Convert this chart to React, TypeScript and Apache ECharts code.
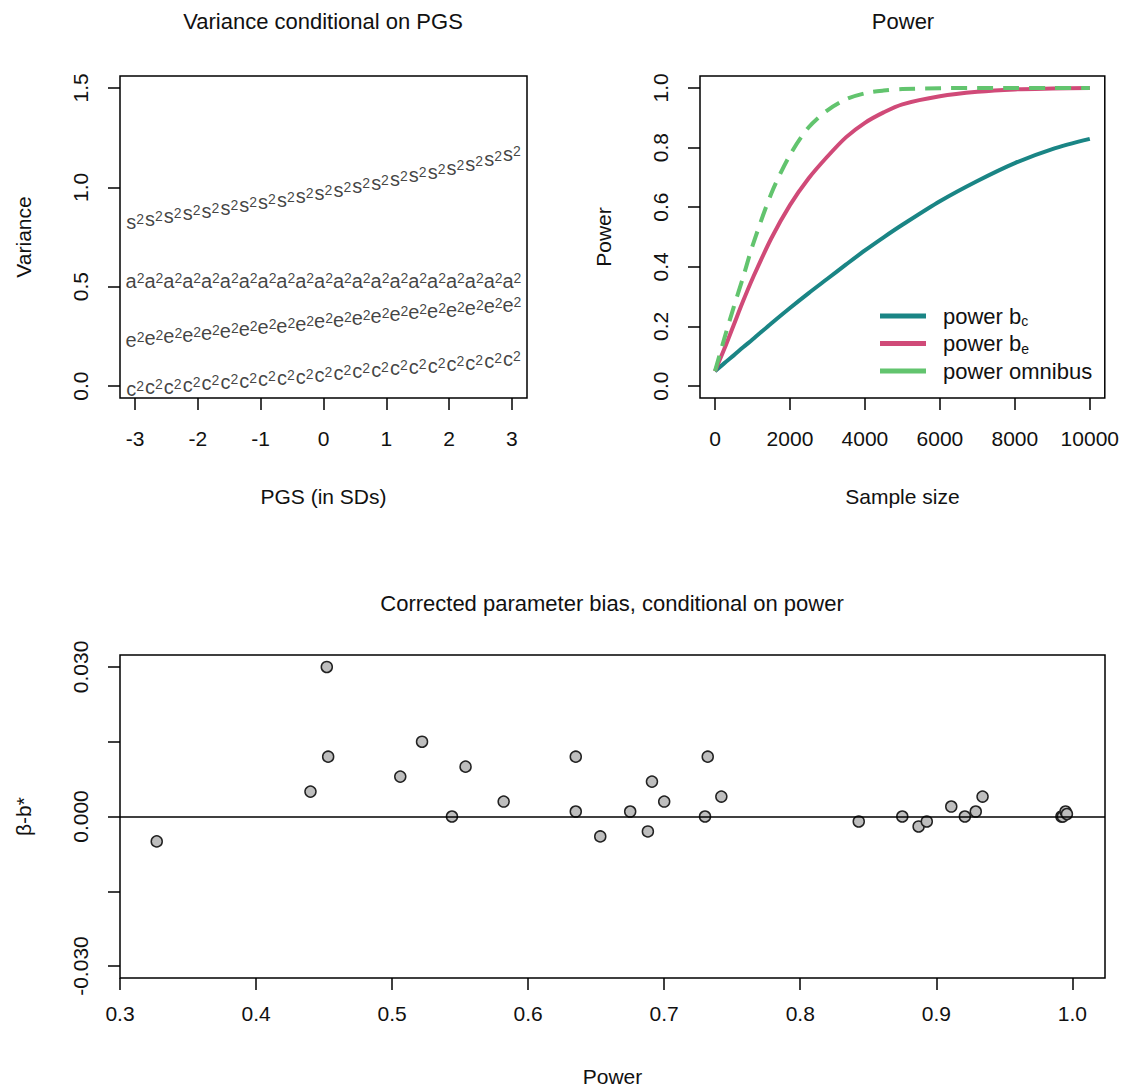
import React, { useEffect, useRef } from "react";
import * as echarts from "echarts";

// ---------- Data ----------
// Panel 1: variance components conditional on PGS
const pgs = [-3, -2.7, -2.4, -2.1, -1.8, -1.5, -1.2, -0.9, -0.6, -0.3, 0, 0.3, 0.6, 0.9, 1.2, 1.5, 1.8, 2.1, 2.4, 2.7, 3];
const s2 = [0.837, 0.855, 0.867, 0.881, 0.894, 0.909, 0.923, 0.938, 0.951, 0.968, 0.985, 1.001, 1.018, 1.035, 1.052, 1.072, 1.09, 1.111, 1.131, 1.156, 1.181];
const a2 = [0.539, 0.539, 0.539, 0.539, 0.539, 0.539, 0.539, 0.539, 0.539, 0.539, 0.539, 0.539, 0.539, 0.539, 0.539, 0.539, 0.539, 0.539, 0.539, 0.539, 0.539];
const e2 = [0.242, 0.253, 0.262, 0.27, 0.282, 0.292, 0.299, 0.309, 0.316, 0.326, 0.338, 0.346, 0.355, 0.363, 0.375, 0.383, 0.388, 0.397, 0.405, 0.414, 0.422];
const c2 = [-0.003, 0.006, 0.01, 0.018, 0.027, 0.035, 0.04, 0.047, 0.052, 0.06, 0.069, 0.077, 0.086, 0.094, 0.102, 0.111, 0.116, 0.122, 0.131, 0.141, 0.148];
const pgsTicks = [-3, -2, -1, 0, 1, 2, 3];
const varTicks = [0, 0.5, 1, 1.5];

// Panel 2: power by sample size
const sampleSize = [0, 250, 500, 750, 1000, 1500, 2000, 2500, 3000, 3500, 4000, 4500, 5000, 6000, 7000, 8000, 9000, 10000];
const powerBc = [0.05, 0.077, 0.103, 0.13, 0.156, 0.21, 0.262, 0.312, 0.36, 0.408, 0.455, 0.499, 0.541, 0.62, 0.688, 0.748, 0.795, 0.829];
const powerBe = [0.05, 0.125, 0.205, 0.285, 0.36, 0.495, 0.607, 0.697, 0.77, 0.835, 0.883, 0.918, 0.945, 0.972, 0.987, 0.995, 0.998, 1.0];
const powerOmni = [0.05, 0.16, 0.265, 0.365, 0.47, 0.645, 0.775, 0.868, 0.925, 0.962, 0.982, 0.991, 0.996, 0.999, 1.0, 1.0, 1.0, 1.0];
const nTicks = [0, 2000, 4000, 6000, 8000, 10000];
const powTicks = [0, 0.2, 0.4, 0.6, 0.8, 1.0];

// Panel 3: corrected parameter bias conditional on power
const powerVals = [0.327, 0.44, 0.452, 0.453, 0.506, 0.522, 0.544, 0.554, 0.582, 0.635, 0.635, 0.653, 0.675, 0.688, 0.691, 0.7, 0.73, 0.732, 0.742, 0.843, 0.875, 0.887, 0.893, 0.911, 0.921, 0.929, 0.934, 0.992, 0.993, 0.995, 0.996];
const biasVals = [-0.005, 0.005, 0.03, 0.012, 0.008, 0.015, 0.0, 0.01, 0.003, 0.012, 0.001, -0.004, 0.001, -0.003, 0.007, 0.003, 0.0, 0.012, 0.004, -0.001, 0.0, -0.002, -0.001, 0.002, 0.0, 0.001, 0.004, 0.0, 0.0, 0.001, 0.0005];
const powerXTicks = [0.3, 0.4, 0.5, 0.6, 0.7, 0.8, 0.9, 1.0];
const biasTicks = [-0.03, -0.015, 0, 0.015, 0.03];
const biasLabels = [-0.03, 0, 0.03];

// ---------- Styling ----------
const FONT = '"Liberation Sans", Arial, Helvetica, sans-serif';
const TXT = "#111111";
const TEAL = "#1a8585";
const PINK = "#d04a78";
const GREEN = "#62c46e";

const tickStyle = (values: number[]) => ({
  show: true,
  length: 12,
  inside: false,
  customValues: values,
  lineStyle: { color: "#000", width: 1.5 },
});

const labelStyle = (values: number[], margin: number, fmt: (v: number) => string, rotate = 0) => ({
  show: true,
  customValues: values,
  margin,
  rotate,
  fontSize: 21,
  fontFamily: FONT,
  color: TXT,
  formatter: fmt,
});

const hiddenLine = { show: false, onZero: false };
const nameStyle = { fontSize: 21, fontFamily: FONT, color: TXT };

const zip = (xs: number[], ys: number[]) => xs.map((x, i) => [x, ys[i]]);

const textSeries = (ys: number[], letter: string) => ({
  type: "scatter",
  xAxisIndex: 0,
  yAxisIndex: 0,
  data: zip(pgs, ys),
  symbol: "circle",
  symbolSize: 1,
  itemStyle: { color: "rgba(0,0,0,0)" },
  label: {
    show: true,
    position: "inside",
    offset: [0, 2.5],
    formatter: `{b|${letter}}{p|2}`,
    rich: {
      b: { fontSize: 20, lineHeight: 20, fontFamily: FONT, color: TXT, verticalAlign: "bottom" },
      p: { fontSize: 14, lineHeight: 14, fontFamily: FONT, color: TXT, padding: [0, 0, 13, 0], verticalAlign: "top" },
    },
  },
  silent: true,
});

const legendNames: Record<string, string> = {
  "power b_c": "power b{sub|c}",
  "power b_e": "power b{sub|e}",
  "power omnibus": "power omnibus",
};

export default function App() {
  const ref = useRef<HTMLDivElement>(null);

  useEffect(() => {
    if (!ref.current) return;
    const chart = echarts.init(ref.current, undefined, { renderer: "svg" });
    const option: any = {
      animation: false,
      backgroundColor: "#ffffff",
      grid: [
        { left: 120, top: 76, width: 407, height: 322, show: true, borderColor: "#000", borderWidth: 1.5, backgroundColor: "transparent" },
        { left: 700, top: 76, width: 406, height: 322, show: true, borderColor: "#000", borderWidth: 1.5, backgroundColor: "transparent" },
        { left: 120, top: 655, width: 985, height: 323, show: true, borderColor: "#000", borderWidth: 1.5, backgroundColor: "transparent" },
      ],
      xAxis: [
        {
          gridIndex: 0, type: "value", min: -3.24, max: 3.24,
          axisLine: hiddenLine, splitLine: { show: false },
          axisTick: tickStyle(pgsTicks),
          axisLabel: labelStyle(pgsTicks, 30, (v: number) => String(v)),
          name: "PGS (in SDs)", nameLocation: "middle", nameGap: 88, nameTextStyle: nameStyle,
        },
        {
          gridIndex: 1, type: "value", min: -400, max: 10400,
          axisLine: hiddenLine, splitLine: { show: false },
          axisTick: tickStyle(nTicks),
          axisLabel: labelStyle(nTicks, 30, (v: number) => String(v)),
          name: "Sample size", nameLocation: "middle", nameGap: 88, nameTextStyle: nameStyle,
        },
        {
          gridIndex: 2, type: "value", min: 0.3, max: 1.024,
          axisLine: hiddenLine, splitLine: { show: false },
          axisTick: tickStyle(powerXTicks),
          axisLabel: labelStyle(powerXTicks, 25, (v: number) => v.toFixed(1)),
          name: "Power", nameLocation: "middle", nameGap: 88, nameTextStyle: nameStyle,
        },
      ],
      yAxis: [
        {
          gridIndex: 0, type: "value", min: -0.06, max: 1.56,
          axisLine: hiddenLine, splitLine: { show: false },
          axisTick: tickStyle(varTicks),
          axisLabel: labelStyle(varTicks, 29, (v: number) => v.toFixed(1), 90),
          name: "Variance", nameLocation: "middle", nameGap: 86, nameRotate: 90, nameTextStyle: nameStyle,
        },
        {
          gridIndex: 1, type: "value", min: -0.04, max: 1.04,
          axisLine: hiddenLine, splitLine: { show: false },
          axisTick: tickStyle(powTicks),
          axisLabel: labelStyle(powTicks, 29, (v: number) => v.toFixed(1), 90),
          name: "Power", nameLocation: "middle", nameGap: 86, nameRotate: 90, nameTextStyle: nameStyle,
        },
        {
          gridIndex: 2, type: "value", min: -0.0324, max: 0.0324,
          axisLine: hiddenLine, splitLine: { show: false },
          axisTick: tickStyle(biasTicks),
          axisLabel: labelStyle(biasLabels, 29, (v: number) => v.toFixed(3), 90),
          name: "β-b*", nameLocation: "middle", nameGap: 86, nameRotate: 90, nameTextStyle: nameStyle,
        },
      ],
      legend: {
        orient: "vertical",
        left: 880,
        top: 304,
        padding: 0,
        icon: "rect",
        itemWidth: 46,
        itemHeight: 5,
        itemGap: 3.5,
        data: ["power b_c", "power b_e", "power omnibus"],
        formatter: (name: string) => legendNames[name],
        textStyle: {
          fontSize: 22,
          lineHeight: 24,
          fontFamily: FONT,
          color: TXT,
          padding: [0, 0, 0, 12],
          rich: {
            sub: { fontSize: 14, lineHeight: 14, fontFamily: FONT, color: TXT, verticalAlign: "bottom" },
          },
        },
        selectedMode: false,
      },
      graphic: [
        { type: "text", x: 323, y: 21, style: { text: "Variance conditional on PGS", fontSize: 22, fontFamily: FONT, fill: TXT, align: "center", verticalAlign: "middle" } },
        { type: "text", x: 903, y: 21, style: { text: "Power", fontSize: 22, fontFamily: FONT, fill: TXT, align: "center", verticalAlign: "middle" } },
        { type: "text", x: 612, y: 603, style: { text: "Corrected parameter bias, conditional on power", fontSize: 22, fontFamily: FONT, fill: TXT, align: "center", verticalAlign: "middle" } },
      ],
      series: [
        textSeries(s2, "s"),
        textSeries(a2, "a"),
        textSeries(e2, "e"),
        textSeries(c2, "c"),
        {
          name: "power b_c", type: "line", xAxisIndex: 1, yAxisIndex: 1,
          data: zip(sampleSize, powerBc), showSymbol: false, symbol: "none", smooth: 0.3,
          lineStyle: { color: TEAL, width: 4 }, itemStyle: { color: TEAL },
        },
        {
          name: "power b_e", type: "line", xAxisIndex: 1, yAxisIndex: 1,
          data: zip(sampleSize, powerBe), showSymbol: false, symbol: "none", smooth: 0.3,
          lineStyle: { color: PINK, width: 4 }, itemStyle: { color: PINK },
        },
        {
          name: "power omnibus", type: "line", xAxisIndex: 1, yAxisIndex: 1,
          data: zip(sampleSize, powerOmni), showSymbol: false, symbol: "none", smooth: 0.3,
          lineStyle: { color: GREEN, width: 4, type: [16, 10] }, itemStyle: { color: GREEN },
        },
        {
          type: "scatter", xAxisIndex: 2, yAxisIndex: 2,
          data: zip(powerVals, biasVals),
          symbol: "circle", symbolSize: 11,
          itemStyle: { color: "#bebebe", borderColor: "#222", borderWidth: 1.5, opacity: 1 },
          markLine: {
            silent: true, symbol: ["none", "none"], label: { show: false },
            lineStyle: { color: "#000", width: 1.5, type: "solid" },
            data: [{ yAxis: 0 }],
          },
          z: 3,
        },
      ],
    };
    chart.setOption(option);
    return () => chart.dispose();
  }, []);

  return <div ref={ref} style={{ position: "absolute", left: 0, top: 0, width: 1122, height: 1088 }} />;
}
